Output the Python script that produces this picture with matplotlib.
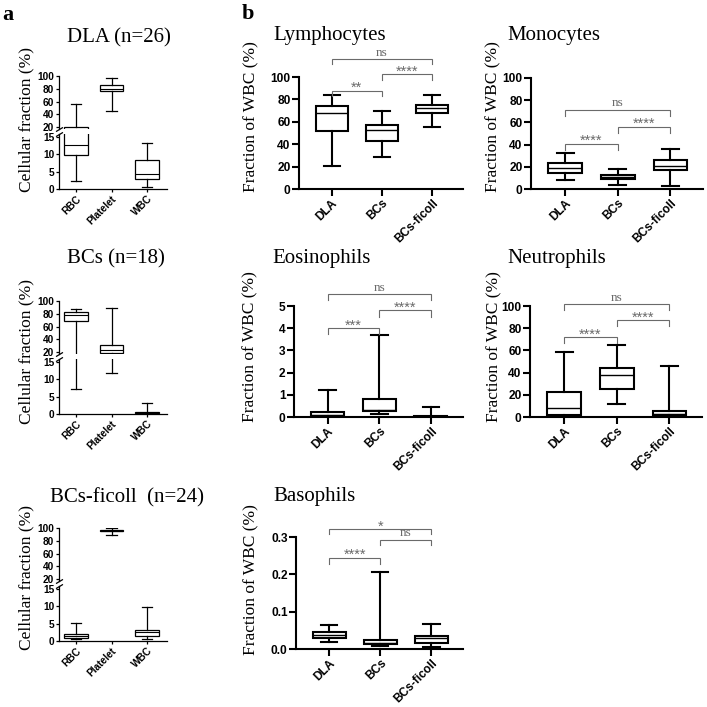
import matplotlib
matplotlib.use('Agg')
import matplotlib.pyplot as plt

W = H = 707
SERIF = ['Liberation Serif', 'DejaVu Serif']
SANS = ['Liberation Sans', 'DejaVu Sans']

# ---------------- data ----------------
# five-number summaries: [min, Q1, median, Q3, max]
cells_a = ['RBC', 'Platelet', 'WBC']
titles_a = ['DLA (n=26)', 'BCs (n=18)', 'BCs-ficoll  (n=24)']
dla_rbc = [2.2, 9.8, 12.8, 20.5, 55.7]
dla_plt = [45.0, 76.0, 80.3, 86.5, 96.8]
dla_wbc = [0.5, 2.9, 4.4, 8.3, 13.3]
bcs_rbc = [7.2, 69.4, 78.2, 82.9, 87.5]
bcs_plt = [11.75, 18.0, 22.6, 30.9, 89.6]
bcs_wbc = [0.0, 0.15, 0.35, 0.6, 3.05]
fic_rbc = [0.6, 0.8, 1.4, 2.1, 5.2]
fic_plt = [89.0, 95.3, 95.8, 97.4, 99.5]
fic_wbc = [0.7, 1.4, 2.7, 3.2, 9.7]

groups_b = ['DLA', 'BCs', 'BCs-ficoll']
titles_b = ['Lymphocytes', 'Monocytes', 'Eosinophils', 'Neutrophils', 'Basophils']
lym_dla = [20.9, 52.2, 67.8, 74.0, 83.6]
lym_bcs = [28.7, 42.7, 52.5, 56.7, 69.6]
lym_fic = [55.8, 68.0, 72.5, 75.2, 83.6]
mon_dla = [8.4, 14.7, 18.9, 23.7, 32.0]
mon_bcs = [3.3, 9.3, 10.5, 12.3, 18.0]
mon_fic = [2.7, 16.8, 21.0, 25.8, 35.7]
eos_dla = [0.0, 0.03, 0.09, 0.21, 1.2]
eos_bcs = [0.15, 0.25, 0.33, 0.81, 3.71]
eos_fic = [0.0, 0.01, 0.03, 0.06, 0.46]
neu_dla = [0.0, 1.5, 7.8, 22.2, 59.0]
neu_bcs = [12.0, 25.1, 37.7, 44.0, 64.7]
neu_fic = [0.5, 1.5, 2.7, 5.1, 45.8]
bas_dla = [0.0178, 0.0285, 0.0374, 0.0454, 0.063]
bas_bcs = [0.008, 0.0134, 0.017, 0.024, 0.205]
bas_fic = [0.006, 0.017, 0.0285, 0.0347, 0.066]

# significance brackets: (group i, group j, bar height, drop, label)
sig_lym = [(0, 2, 116.0, 4.0, 'ns'), (1, 2, 102.5, 4.8, '****'), (0, 1, 87.8, 4.5, '**')]
sig_mon = [(0, 2, 71.5, 5.8, 'ns'), (1, 2, 56.2, 5.8, '****'), (0, 1, 40.8, 5.4, '****')]
sig_eos = [(0, 2, 5.52, 0.27, 'ns'), (1, 2, 4.82, 0.33, '****'), (0, 1, 4.01, 0.28, '***')]
sig_neu = [(0, 2, 101.8, 5.4, 'ns'), (1, 2, 87.4, 5.4, '****'), (0, 1, 71.9, 5.4, '****')]
sig_bas = [(0, 2, 0.3205, 0.0115, '*'), (1, 2, 0.293, 0.015, 'ns'), (0, 1, 0.245, 0.016, '****')]

# ---------------- helpers ----------------
fig = plt.figure(figsize=(W / 100, H / 100), dpi=100)


def px_axes(x0, y0, x1, y1):
    return fig.add_axes([x0 / W, 1 - y1 / H, (x1 - x0) / W, (y1 - y0) / H])


def make_stats(rows, labels):
    return [dict(whislo=r[0], q1=r[1], med=r[2], q3=r[3], whishi=r[4], label=l)
            for r, l in zip(rows, labels)]


def draw_boxes(ax, rows, labels, lw, medlw, width, capw):
    ax.bxp(make_stats(rows, labels), positions=[0, 1, 2], widths=width,
           capwidths=capw, showfliers=False, patch_artist=True, manage_ticks=False,
           boxprops=dict(facecolor='white', edgecolor='black', linewidth=lw),
           whiskerprops=dict(color='black', linewidth=lw),
           capprops=dict(color='black', linewidth=lw),
           medianprops=dict(color='black', linewidth=medlw))


def style_ticks(ax, size, spw, tlen):
    for s in ['top', 'right']:
        ax.spines[s].set_visible(False)
    for s in ['left', 'bottom']:
        ax.spines[s].set_linewidth(spw)
    ax.tick_params(axis='both', direction='out', length=tlen, width=spw, pad=1,
                   labelsize=size)
    for lab in ax.get_yticklabels() + ax.get_xticklabels():
        lab.set_fontfamily(SANS)
        lab.set_fontweight('bold')


# ---------------- panel a ----------------
rows_a = [[dla_rbc, dla_plt, dla_wbc], [bcs_rbc, bcs_plt, bcs_wbc], [fic_rbc, fic_plt, fic_wbc]]
tops_a = [76, 301, 528]
title_a_pos = [(67, 42), (67, 263), (50, 502)]
ylab_a_y = [119, 352, 577]
for rows, yt, title, (tx, ty), ly in zip(rows_a, tops_a, titles_a, title_a_pos, ylab_a_y):
    up = px_axes(59, yt, 167, yt + 53)
    lo = px_axes(59, yt + 58, 167, yt + 113)
    for ax in (up, lo):
        draw_boxes(ax, rows, cells_a, 0.9, 0.8, 0.67, 0.3)
        ax.set_xlim(-0.48, 2.56)
    up.set_ylim(16.9, 100)
    lo.set_ylim(0, 15.87)
    up.set_yticks([20, 40, 60, 80, 100])
    lo.set_yticks([0, 5, 10, 15])
    up.set_xticks([])
    lo.set_xticks([0, 1, 2])
    lo.set_xticklabels(cells_a)
    style_ticks(up, 7.3, 0.9, 2.5)
    style_ticks(lo, 7.3, 0.9, 2.5)
    up.spines['bottom'].set_visible(False)
    for lab in lo.get_xticklabels():
        lab.set_rotation(45)
        lab.set_ha('right')
        lab.set_rotation_mode('anchor')
    # segmented-axis break marks
    kw = dict(marker=[(-1, -0.6), (1, 0.6)], markersize=5, linestyle='none',
              color='black', mec='black', mew=0.9, clip_on=False)
    up.plot([0], [0], transform=up.transAxes, **kw)
    lo.plot([0], [1], transform=lo.transAxes, **kw)
    fig.text(tx / W, 1 - ty / H, title, family=SERIF, fontsize=15, ha='left', va='baseline')
    fig.text(26 / W, 1 - ly / H, 'Cellular fraction (%)', family=SERIF, fontsize=12.5,
             rotation=90, ha='center', va='center')

# ---------------- panel b ----------------
panels_b = [
    (titles_b[0], [lym_dla, lym_bcs, lym_fic], sig_lym, (299, 77, 463, 189), (0, 100), [0, 20, 40, 60, 80, 100], (273, 40), (251, 117), '%d'),
    (titles_b[1], [mon_dla, mon_bcs, mon_fic], sig_mon, (531, 78, 703, 189), (0, 100), [0, 20, 40, 60, 80, 100], (507, 40), (493, 117), '%d'),
    (titles_b[2], [eos_dla, eos_bcs, eos_fic], sig_eos, (294, 306, 463, 417), (0, 5), [0, 1, 2, 3, 4, 5], (272, 263), (250, 347), '%d'),
    (titles_b[3], [neu_dla, neu_bcs, neu_fic], sig_neu, (530, 306, 702, 417), (0, 100), [0, 20, 40, 60, 80, 100], (507, 263), (494, 347), '%d'),
    (titles_b[4], [bas_dla, bas_bcs, bas_fic], sig_bas, (296, 537, 463, 649), (0, 0.3), [0.0, 0.1, 0.2, 0.3], (273, 501), (251, 580), '%.1f'),
]
GRAY = '#6a6a6a'
for title, rows, sigs, box, ylim, yt, (tx, ty), (lx, ly), fmt in panels_b:
    ax = px_axes(*box)
    draw_boxes(ax, rows, groups_b, 1.5, 1.0, 0.64, 0.32)
    ax.set_xlim(-0.65, 2.62)
    ax.set_ylim(*ylim)
    ax.set_yticks(yt)
    ax.set_yticklabels([fmt % v for v in yt])
    ax.set_xticks([0, 1, 2])
    ax.set_xticklabels(groups_b)
    style_ticks(ax, 8.6, 1.5, 5)
    for lab in ax.get_xticklabels():
        lab.set_rotation(45)
        lab.set_ha('right')
        lab.set_rotation_mode('anchor')
    for i, j, yb, drop, lab in sigs:
        ax.plot([i, i, j, j], [yb - drop, yb, yb, yb - drop], color=GRAY, lw=0.8,
                clip_on=False, solid_joinstyle='miter')
        if lab == 'ns':
            ax.annotate(lab, xy=((i + j) / 2, yb), xytext=(0, 4.6), textcoords='offset points',
                        ha='center', va='center', color=GRAY, fontsize=9.5,
                        family=SERIF, annotation_clip=False)
        else:
            ax.annotate(lab, xy=((i + j) / 2, yb), xytext=(0, 1.8), textcoords='offset points',
                        ha='center', va='center', color=GRAY, fontsize=10.5,
                        family=SANS, annotation_clip=False)
    fig.text(tx / W, 1 - ty / H, title, family=SERIF, fontsize=15, ha='left', va='baseline')
    fig.text(lx / W, 1 - ly / H, 'Fraction of WBC (%)', family=SERIF, fontsize=12.5,
             rotation=90, ha='center', va='center')

fig.text(2 / W, 1 - 20 / H, 'a', family=SERIF, fontsize=16, fontweight='bold', ha='left', va='baseline')
fig.text(242 / W, 1 - 19 / H, 'b', family=SERIF, fontsize=16, fontweight='bold', ha='left', va='baseline')

fig.savefig('out.png', dpi=100, facecolor='white')
